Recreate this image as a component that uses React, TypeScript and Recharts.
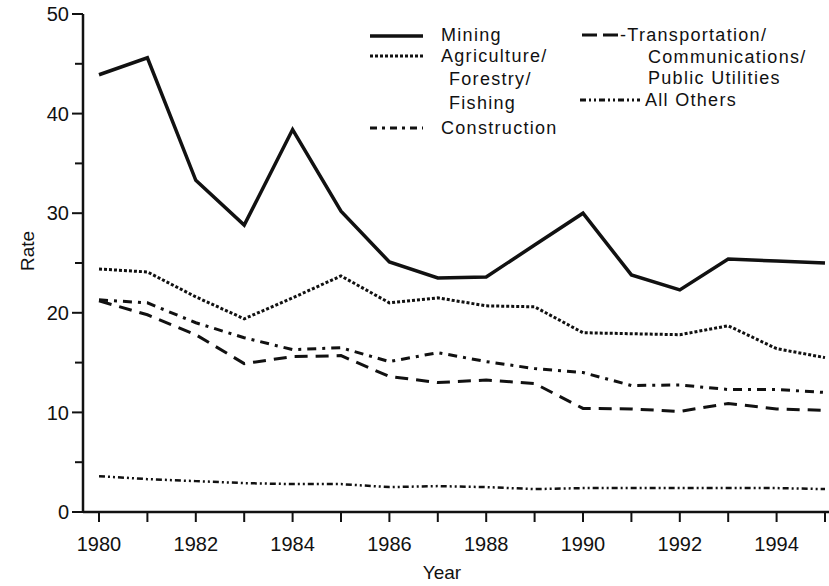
import React from "react";
import { LineChart, Line, XAxis, YAxis, Legend } from "recharts";

const years = [1980, 1981, 1982, 1983, 1984, 1985, 1986, 1987, 1988, 1989, 1990, 1991, 1992, 1993, 1994, 1995];
const mining = [43.9, 45.6, 33.3, 28.8, 38.4, 30.2, 25.1, 23.5, 23.6, 26.8, 30.0, 23.8, 22.3, 25.4, 25.2, 25.0];
const agriculture = [24.4, 24.1, 21.6, 19.4, 21.5, 23.7, 21.0, 21.5, 20.7, 20.6, 18.0, 17.9, 17.8, 18.7, 16.4, 15.5];
const construction = [21.3, 21.0, 19.0, 17.5, 16.3, 16.5, 15.1, 16.0, 15.1, 14.4, 14.0, 12.7, 12.75, 12.3, 12.3, 12.0];
const transportation = [21.2, 19.8, 17.8, 14.9, 15.6, 15.7, 13.6, 13.0, 13.25, 12.9, 10.4, 10.35, 10.1, 10.9, 10.35, 10.2];
const allOthers = [3.6, 3.3, 3.1, 2.9, 2.8, 2.8, 2.5, 2.6, 2.5, 2.3, 2.4, 2.4, 2.4, 2.4, 2.4, 2.3];

const yTicks = [0, 5, 10, 15, 20, 25, 30, 35, 40, 45, 50];

const data = years.map((year, i) => ({
  year,
  mining: mining[i],
  agriculture: agriculture[i],
  construction: construction[i],
  transportation: transportation[i],
  allOthers: allOthers[i],
}));

const INK = "#111";
const FONT = "'Liberation Sans', Arial, sans-serif";

const YTick = (props: any) => {
  const { x, y, payload } = props;
  const major = payload.value % 10 === 0;
  return (
    <g>
      <line x1={x - (major ? 11 : 8)} x2={x} y1={y} y2={y} stroke={INK} strokeWidth={2} />
      {major && (
        <text x={x - 14} y={y} dy="0.36em" textAnchor="end" fontSize={20} fontFamily={FONT} fill={INK}>
          {payload.value}
        </text>
      )}
    </g>
  );
};

const XTick = (props: any) => {
  const { x, y, payload } = props;
  const labelled = payload.value % 2 === 0;
  return (
    <g>
      <line x1={x} x2={x} y1={y} y2={y + 10} stroke={INK} strokeWidth={2} />
      {labelled && (
        <text x={x} y={y + 39} textAnchor="middle" fontSize={20} fontFamily={FONT} fill={INK}>
          {payload.value}
        </text>
      )}
    </g>
  );
};

const txt = { fontSize: 18, fontFamily: FONT, fill: INK, letterSpacing: 1.3 } as const;

// legend drawn as a small svg laid over the top-right of the plot
function ChartLegend() {
  return (
    <svg width={829} height={140} style={{ display: "block" }}>
      <line x1={370} x2={423} y1={36} y2={36} stroke={INK} strokeWidth={3.5} />
      <text x={441} y={35} dy="0.35em" {...txt}>Mining</text>

      <line x1={370} x2={423} y1={56} y2={56} stroke={INK} strokeWidth={3} strokeDasharray="3 2" />
      <text x={441} y={56} dy="0.35em" {...txt}>Agriculture/</text>
      <text x={449} y={79} dy="0.35em" {...txt}>Forestry/</text>
      <text x={449} y={103} dy="0.35em" {...txt}>Fishing</text>

      <line x1={370} x2={423} y1={128} y2={128} stroke={INK} strokeWidth={3} strokeDasharray="7 5 3 5" />
      <text x={441} y={128} dy="0.35em" {...txt}>Construction</text>

      <line x1={582} x2={618} y1={35} y2={35} stroke={INK} strokeWidth={3} strokeDasharray="15 6" />
      <text x={620} y={35} dy="0.35em" {...txt}>-Transportation/</text>
      <text x={648} y={57} dy="0.35em" {...txt}>Communications/</text>
      <text x={648} y={78} dy="0.35em" {...txt}>Public Utilities</text>

      <line x1={580} x2={640} y1={100} y2={100} stroke={INK} strokeWidth={3} strokeDasharray="6 3 2 3 2 3" />
      <text x={645} y={100} dy="0.35em" {...txt}>All Others</text>
    </svg>
  );
}

export default function App() {
  return (
    <div style={{ position: "absolute", left: 0, top: 0, width: 829, height: 586, background: "#fff" }}>
      <LineChart width={829} height={586} data={data} margin={{ top: 14, right: 0, bottom: 0, left: 0 }}>
        <XAxis
          dataKey="year"
          type="number"
          domain={[1980, 1995]}
          ticks={years}
          interval={0}
          padding={{ left: 16, right: 4 }}
          height={74}
          tickSize={0}
          tickMargin={0}
          tickLine={false}
          tick={<XTick />}
          axisLine={{ stroke: INK, strokeWidth: 2.5 }}
          label={{ value: "Year", position: "insideBottom", offset: 7, dx: -14, fontSize: 19, fontFamily: FONT, fill: INK }}
        />
        <YAxis
          type="number"
          domain={[0, 50]}
          ticks={yTicks}
          interval={0}
          width={83}
          tickSize={0}
          tickMargin={0}
          tickLine={false}
          tick={<YTick />}
          axisLine={{ stroke: INK, strokeWidth: 2.5 }}
          label={{
            content: () => (
              <text x={27} y={251} dy="0.35em" transform="rotate(-90 27 251)" textAnchor="middle" fontSize={19} fontFamily={FONT} fill={INK}>
                Rate
              </text>
            ),
          }}
        />
        <Legend
          layout="horizontal"
          verticalAlign="middle"
          align="center"
          wrapperStyle={{ top: 0, left: 0, width: 829 }}
          content={() => <ChartLegend />}
        />
        <Line dataKey="mining" name="Mining" stroke={INK} strokeWidth={3.5} dot={false} isAnimationActive={false} />
        <Line dataKey="agriculture" name="Agriculture/Forestry/Fishing" stroke={INK} strokeWidth={3} strokeDasharray="3 2" dot={false} isAnimationActive={false} />
        <Line dataKey="construction" name="Construction" stroke={INK} strokeWidth={3} strokeDasharray="9 6 3 6" dot={false} isAnimationActive={false} />
        <Line dataKey="transportation" name="Transportation/Communications/Public Utilities" stroke={INK} strokeWidth={3} strokeDasharray="13 8" dot={false} isAnimationActive={false} />
        <Line dataKey="allOthers" name="All Others" stroke={INK} strokeWidth={2.5} strokeDasharray="6 3 2 3 2 3" dot={false} isAnimationActive={false} />
      </LineChart>
    </div>
  );
}
